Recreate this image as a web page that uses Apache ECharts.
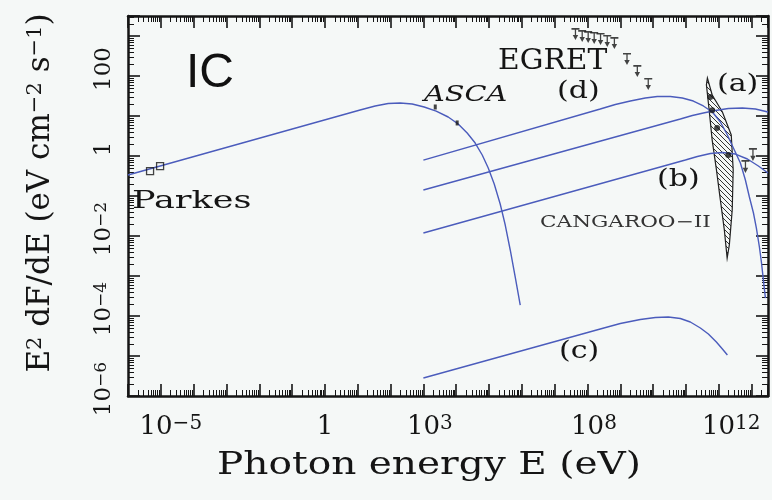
<!DOCTYPE html>
<html><head><meta charset="utf-8">
<script src="https://cdn.jsdelivr.net/npm/echarts@6/dist/echarts.min.js"></script>
<style>html,body{margin:0;padding:0;background:#f5f8f7}#c{width:772px;height:500px}</style>
</head><body><div id="c"></div>
<script>
// ---- data (photon energy E in eV, E^2 dF/dE in eV cm^-2 s^-1) ----
const leftE = [1e-6, 11.8, 33.9, 84.5, 196, 456, 1057, 2455, 5700, 11500, 21600, 37900, 62100, 94600, 1.44e5, 2.19e5, 3.12e5, 4.43e5, 6.29e5, 8.94e5];
const leftF = [0.335, 14.1, 17.8, 20.5, 21.1, 20.0, 16.8, 13.3, 9.44, 6.31, 3.76, 2.11, 1.06, 0.50, 0.20, 0.063, 0.0188, 0.00447, 9.4e-4, 1.88e-4];

const dE = [1e3, 2.45e8, 7.05e8, 2.02e9, 5.78e9, 1.34e10, 3.34e10, 7.76e10, 1.68e11, 3.39e11, 6.38e11, 1.12e12, 1.83e12, 2.79e12, 4.56e12, 6.47e12, 8.57e12, 1.14e13, 1.40e13, 1.73e13, 1.99e13, 2.29e13, 2.64e13];
const dF = [0.79, 15.0, 19.4, 23.7, 28.2, 30.7, 30.7, 28.2, 23.7, 17.8, 12.6, 7.08, 3.35, 1.58, 0.668, 0.251, 0.0944, 0.0376, 0.0158, 0.00531, 0.00224, 7.9e-4, 2.8e-4];

const aE = [1e3, 6.75e10, 1.57e11, 3.39e11, 7.87e11, 1.96e12, 5.25e12, 1.31e13, 3.16e13];
const aF = [0.141, 8.41, 10.3, 11.9, 13.7, 15.4, 15.8, 15.0, 12.6];

const bE = [1e3, 9.6e10, 2.23e11, 5.55e11, 1.29e12, 3.21e12, 7.45e12, 1.61e13, 3.16e13];
const bF = [0.0119, 0.794, 0.972, 1.155, 1.22, 1.12, 0.841, 0.562, 0.376];

const cE = [1e3, 2.45e8, 1.0e9, 4.07e9, 1.17e10, 2.9e10, 6.75e10, 1.36e11, 2.75e11, 4.82e11, 8.45e11, 1.29e12, 1.83e12];
const cF = [2.82e-6, 4.73e-5, 6.49e-5, 8.18e-5, 9.17e-5, 9.44e-5, 8.66e-5, 7.08e-5, 5.01e-5, 3.55e-5, 2.24e-5, 1.50e-5, 1.06e-5];

const egretE = [4.3e7, 6.9e7, 1.05e8, 1.6e8, 2.5e8, 4.0e8, 6.6e8, 1.6e9, 3.3e9, 7.1e9];
const egretF = [1580, 1410, 1330, 1260, 1190, 1060, 940, 376, 188, 89];

const tevE = [5.5e11, 6.3e11, 8.9e11, 1.95e12];
const tevF = [30, 14, 5.0, 1.06];
const tevUlE = [6.5e12, 1.1e13];
const tevUlF = [0.79, 1.58];

const ascaE = [2300, 1.07e4];
const ascaF = [16.8, 6.7];

const parkesE = [4.7e-6, 9.5e-6];
const parkesF = [0.42, 0.56];

const cangE = [4.5e11, 6.3e11, 1.29e12, 2.4e12, 2.75e12, 2.57e12, 2.1e12, 1.8e12, 1.48e12, 1.12e12, 8.5e11, 6.3e11, 5.1e11, 4.2e11];
const cangF = [89, 33.5, 12.6, 3.35, 0.45, 0.045, 0.006, 0.0028, 0.014, 0.079, 0.45, 2.5, 14, 60];

const xLabelExps = [-5, 0, 3, 8, 12];
const xLabelTexts = ['{b3|10}{sup|−5}', '{b0|1}', '{b1|10}{sup|3}', '{b1|10}{sup|8}', '{b2|10}{sup|12}'];
const yLabelExps = [-6, -4, -2, 0, 2];
const yLabelTexts = ['{b|10}{sup|−6}', '{b|10}{sup|−4}', '{b|10}{sup|−2}', '{b|1}', '{b|100}'];

// ---- chart ----
const pairs = (xs, ys) => xs.map((x, i) => [x, ys[i]]);
const BLUE = '#4b5cbc';
const INK = '#151515';
const SERIF = '"DejaVu Serif", serif';

const hatch = document.createElement('canvas');
hatch.width = 5; hatch.height = 5;
(function () {
  const g = hatch.getContext('2d');
  g.fillStyle = '#f5f8f7'; g.fillRect(0, 0, 5, 5);
  g.strokeStyle = '#333'; g.lineWidth = 1;
  g.beginPath(); g.moveTo(0, 0); g.lineTo(5, 5); g.moveTo(-1, 4); g.lineTo(1, 6); g.moveTo(4, -1); g.lineTo(6, 1); g.stroke();
})();

function labelFmt(exps, texts) {
  return v => { const e = Math.round(Math.log10(v)); const i = exps.indexOf(e); return i < 0 ? '' : texts[i]; };
}

const tickCommon = {
  axisLine: { show: true, onZero: false, lineStyle: { color: INK, width: 2.5 } },
  axisTick: { show: true, inside: true, length: 12, lineStyle: { color: INK, width: 1.6 } },
  minorTick: { show: true, splitNumber: 9, length: 6, lineStyle: { color: INK, width: 1 } },
  splitLine: { show: false },
  minorSplitLine: { show: false }
};

const xBase = { type: 'log', logBase: 10, min: 1e-6, max: 3.1623e13, interval: 1, splitNumber: 20 };
const yBase = { type: 'log', logBase: 10, min: 1e-6, max: 3162.3, interval: 1, splitNumber: 10 };

const bx = { fontFamily: SERIF, fontSize: 26, color: INK, verticalAlign: 'bottom', lineHeight: 26 };
const lineSeries = (name, xs, ys) => ({ type: 'line', name, data: pairs(xs, ys), showSymbol: false, smooth: false,
  lineStyle: { color: BLUE, width: 1.4 }, z: 4 });

const chart = echarts.init(document.getElementById('c'), null, { renderer: 'canvas' });
chart.setOption({
  backgroundColor: '#f5f8f7',
  animation: false,
  grid: { left: 128, right: 4, top: 16, bottom: 104 },
  xAxis: [
    Object.assign({}, xBase, tickCommon, {
      position: 'bottom',
      axisLabel: {
        margin: 18, color: INK, fontFamily: SERIF, formatter: labelFmt(xLabelExps, xLabelTexts),
        rich: {
          b0: bx,
          b1: Object.assign({}, bx, { padding: [0, 0, 0, 13] }),
          b2: Object.assign({}, bx, { padding: [0, 0, 0, 25] }),
          b3: Object.assign({}, bx, { padding: [0, 0, 0, 20] }),
          sup: { fontFamily: SERIF, fontSize: 20, color: INK, verticalAlign: 'top', lineHeight: 20, padding: [0, 0, 12, 0] }
        }
      }
    }),
    Object.assign({}, xBase, tickCommon, { position: 'top', axisLabel: { show: false } })
  ],
  yAxis: [
    Object.assign({}, yBase, tickCommon, {
      position: 'left',
      name: '{m|E}{s|2}{m| dF/dE (eV cm}{s|−2}{m| s}{s|−1}{m|)}', nameLocation: 'middle', nameGap: 72, nameRotate: 90,
      nameTextStyle: {
        padding: [0, 0, 0, 26],
        rich: {
          m: { fontFamily: SERIF, fontSize: 31, color: INK, verticalAlign: 'bottom', lineHeight: 31 },
          s: { fontFamily: SERIF, fontSize: 21, color: INK, verticalAlign: 'top', lineHeight: 21, padding: [0, 0, 16, 0] }
        }
      },
      axisLabel: {
        rotate: 90, margin: 12, padding: [0, 0, 0, 14], color: INK, fontFamily: SERIF, formatter: labelFmt(yLabelExps, yLabelTexts),
        rich: {
          b: { fontFamily: SERIF, fontSize: 23, color: INK, verticalAlign: 'bottom', lineHeight: 23 },
          sup: { fontFamily: SERIF, fontSize: 17, color: INK, verticalAlign: 'top', lineHeight: 17, padding: [0, 0, 12, 0] }
        }
      }
    }),
    Object.assign({}, yBase, tickCommon, { position: 'right', axisLabel: { show: false } })
  ],
  graphic: [
    { type: 'text', x: 429, y: 450, scaleX: 1.26, style: { text: 'Photon energy E (eV)', font: '31px ' + SERIF, fill: INK, align: 'center' } },
    { type: 'text', x: 186, y: 50, style: { text: 'IC', font: '48px "Liberation Sans", sans-serif', fill: '#111' } },
    { type: 'text', x: 498, y: 48, scaleX: 1.1, style: { text: 'EGRET', font: '27px ' + SERIF, fill: INK } },
    { type: 'text', x: 424, y: 84, scaleX: 1.25, style: { text: 'ASCA', font: 'italic 23px ' + SERIF, fill: INK } },
    { type: 'text', x: 557, y: 80, scaleX: 1.25, style: { text: '(d)', font: '24px ' + SERIF, fill: INK } },
    { type: 'text', x: 717, y: 73, scaleX: 1.25, style: { text: '(a)', font: '24px ' + SERIF, fill: INK } },
    { type: 'text', x: 657, y: 168, scaleX: 1.25, style: { text: '(b)', font: '24px ' + SERIF, fill: INK } },
    { type: 'text', x: 559, y: 340, scaleX: 1.25, style: { text: '(c)', font: '24px ' + SERIF, fill: INK } },
    { type: 'text', x: 540, y: 215, scaleX: 1.35, style: { text: 'CANGAROO−II', font: '16px ' + SERIF, fill: '#333' } },
    { type: 'text', x: 132, y: 189, scaleX: 1.4, style: { text: 'Parkes', font: '25px ' + SERIF, fill: INK } }
  ],
  series: [
    { type: 'custom', name: 'CANGAROO-II', xAxisIndex: 0, yAxisIndex: 0, data: [[cangE[0], cangF[0]]], z: 3,
      renderItem: (params, api) => ({
        type: 'polygon',
        shape: { points: cangE.map((e, i) => api.coord([e, cangF[i]])) },
        style: { fill: { image: hatch, repeat: 'repeat' }, stroke: '#222', lineWidth: 1.2 }
      }) },
    lineSeries('left', leftE, leftF),
    lineSeries('d', dE, dF),
    lineSeries('a', aE, aF),
    lineSeries('b', bE, bF),
    lineSeries('c', cE, cF),
    { type: 'scatter', name: 'EGRET', data: pairs(egretE, egretF), z: 5,
      symbol: 'path://M0,0 H10 V1.6 H5.8 V7 H8.4 L5,12 L1.6,7 H4.2 V1.6 H0 Z', symbolSize: [8, 12], symbolOffset: [0, '50%'],
      itemStyle: { color: INK } },
    { type: 'scatter', name: 'TeV UL', data: pairs(tevUlE, tevUlF), z: 5,
      symbol: 'path://M0,0 H10 V1.6 H5.8 V7 H8.4 L5,12 L1.6,7 H4.2 V1.6 H0 Z', symbolSize: [8, 13], symbolOffset: [0, '50%'],
      itemStyle: { color: INK } },
    { type: 'scatter', name: 'TeV', data: pairs(tevE, tevF), symbol: 'circle', symbolSize: 6, itemStyle: { color: INK }, z: 6 },
    { type: 'scatter', name: 'ASCA', data: pairs(ascaE, ascaF), symbol: 'rect', symbolSize: [3, 5], itemStyle: { color: INK }, z: 6 },
    { type: 'scatter', name: 'Parkes', data: pairs(parkesE, parkesF), symbol: 'rect', symbolSize: 7,
      itemStyle: { color: 'rgba(0,0,0,0)', borderColor: INK, borderWidth: 1.3 }, z: 6 }
  ]
});
</script></body></html>
